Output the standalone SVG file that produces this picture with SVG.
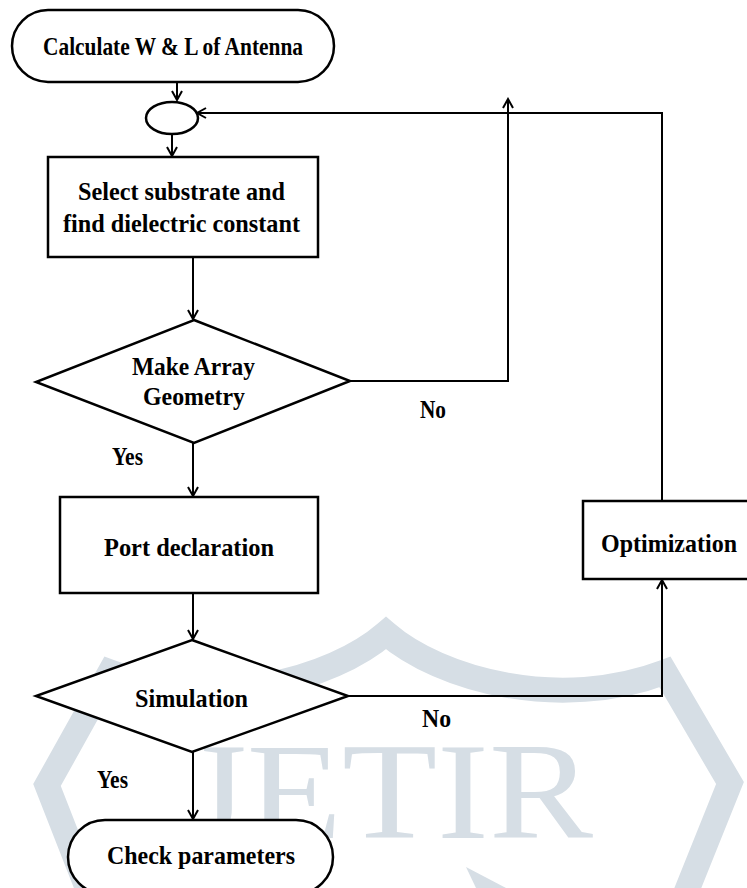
<svg xmlns="http://www.w3.org/2000/svg" width="747" height="888" viewBox="0 0 747 888">
<defs>
<style>
.shape{fill:#fff;stroke:#000;stroke-width:2.5}
.lbl{font-family:"Liberation Serif","Times New Roman",serif;font-weight:bold;font-size:26px;fill:#000}
.conn{fill:none;stroke:#000;stroke-width:2}
.wm{fill:none;stroke:#d6dee5;stroke-width:25;stroke-linejoin:miter}
</style>
<marker id="arr" markerUnits="userSpaceOnUse" markerWidth="14" markerHeight="14" viewBox="-12 -7 14 14" refX="0" refY="0" orient="auto">
<path d="M-9,-5 L0,0 L-9,5" fill="none" stroke="#000" stroke-width="2"/>
</marker>
</defs>
<rect width="747" height="888" fill="#fff"/>
<g id="watermark">
<path class="wm" d="M92,900 L47,785 L110,672 C212,712 332,680 386,633 C440,680 560,712 665,672 L730,783 L683,900"/>
<polygon points="466,867 506,888 476,888" fill="#d6dee5"/>
<text x="186" y="838" textLength="407" lengthAdjust="spacingAndGlyphs" style="font-family:'Liberation Serif',serif;font-size:138px;fill:#d6dee5">JETIR</text>
</g>
<g id="connectors">
<line class="conn" x1="177" y1="82" x2="177" y2="100" marker-end="url(#arr)"/>
<line class="conn" x1="172" y1="134" x2="172" y2="156" marker-end="url(#arr)"/>
<line class="conn" x1="193" y1="257" x2="193" y2="319" marker-end="url(#arr)"/>
<line class="conn" x1="193" y1="443" x2="193" y2="496" marker-end="url(#arr)"/>
<line class="conn" x1="193" y1="593" x2="193" y2="639" marker-end="url(#arr)"/>
<line class="conn" x1="193" y1="752" x2="193" y2="819" marker-end="url(#arr)"/>
<polyline class="conn" points="350,381 508,381 508,99" marker-end="url(#arr)"/>
<polyline class="conn" points="347,696 662,696 662,580" marker-end="url(#arr)"/>
<polyline class="conn" points="662,501 662,113 197,113" marker-end="url(#arr)"/>
</g>
<g id="calc">
<rect class="shape" x="12" y="10" width="322" height="72" rx="36"/>
<text class="lbl" x="43" y="55" textLength="260" lengthAdjust="spacingAndGlyphs">Calculate W &amp; L of Antenna</text>
</g>
<g id="junction">
<ellipse class="shape" cx="172" cy="118" rx="26" ry="16"/>
</g>
<g id="select">
<rect class="shape" x="48" y="157" width="270" height="100"/>
<text class="lbl" x="78" y="200" textLength="207" lengthAdjust="spacingAndGlyphs">Select substrate and</text>
<text class="lbl" x="63" y="232" textLength="237" lengthAdjust="spacingAndGlyphs">find dielectric  constant</text>
</g>
<g id="geometry">
<polygon class="shape" points="194,320 350,381 194,443 36,382"/>
<text class="lbl" x="132" y="375" textLength="123" lengthAdjust="spacingAndGlyphs">Make Array</text>
<text class="lbl" x="143" y="405" textLength="102" lengthAdjust="spacingAndGlyphs">Geometry</text>
</g>
<g id="labels">
<text class="lbl" x="420" y="418" textLength="26" lengthAdjust="spacingAndGlyphs">No</text>
<text class="lbl" x="112" y="465" textLength="31" lengthAdjust="spacingAndGlyphs">Yes</text>
<text class="lbl" x="422" y="727" textLength="29" lengthAdjust="spacingAndGlyphs">No</text>
<text class="lbl" x="97" y="788" textLength="31" lengthAdjust="spacingAndGlyphs">Yes</text>
</g>
<g id="port">
<rect class="shape" x="60" y="497" width="258" height="96"/>
<text class="lbl" x="104" y="556" textLength="170" lengthAdjust="spacingAndGlyphs">Port declaration</text>
</g>
<g id="optimization">
<rect class="shape" x="583" y="501" width="180" height="78"/>
<text class="lbl" x="601" y="552" textLength="136" lengthAdjust="spacingAndGlyphs">Optimization</text>
</g>
<g id="simulation">
<polygon class="shape" points="192,640 348,696 192,752 36,696"/>
<text class="lbl" x="135" y="707" textLength="113" lengthAdjust="spacingAndGlyphs">Simulation</text>
</g>
<g id="check">
<rect class="shape" x="68" y="820" width="265" height="74" rx="37"/>
<text class="lbl" x="107" y="864" textLength="188" lengthAdjust="spacingAndGlyphs">Check parameters</text>
</g>
</svg>
